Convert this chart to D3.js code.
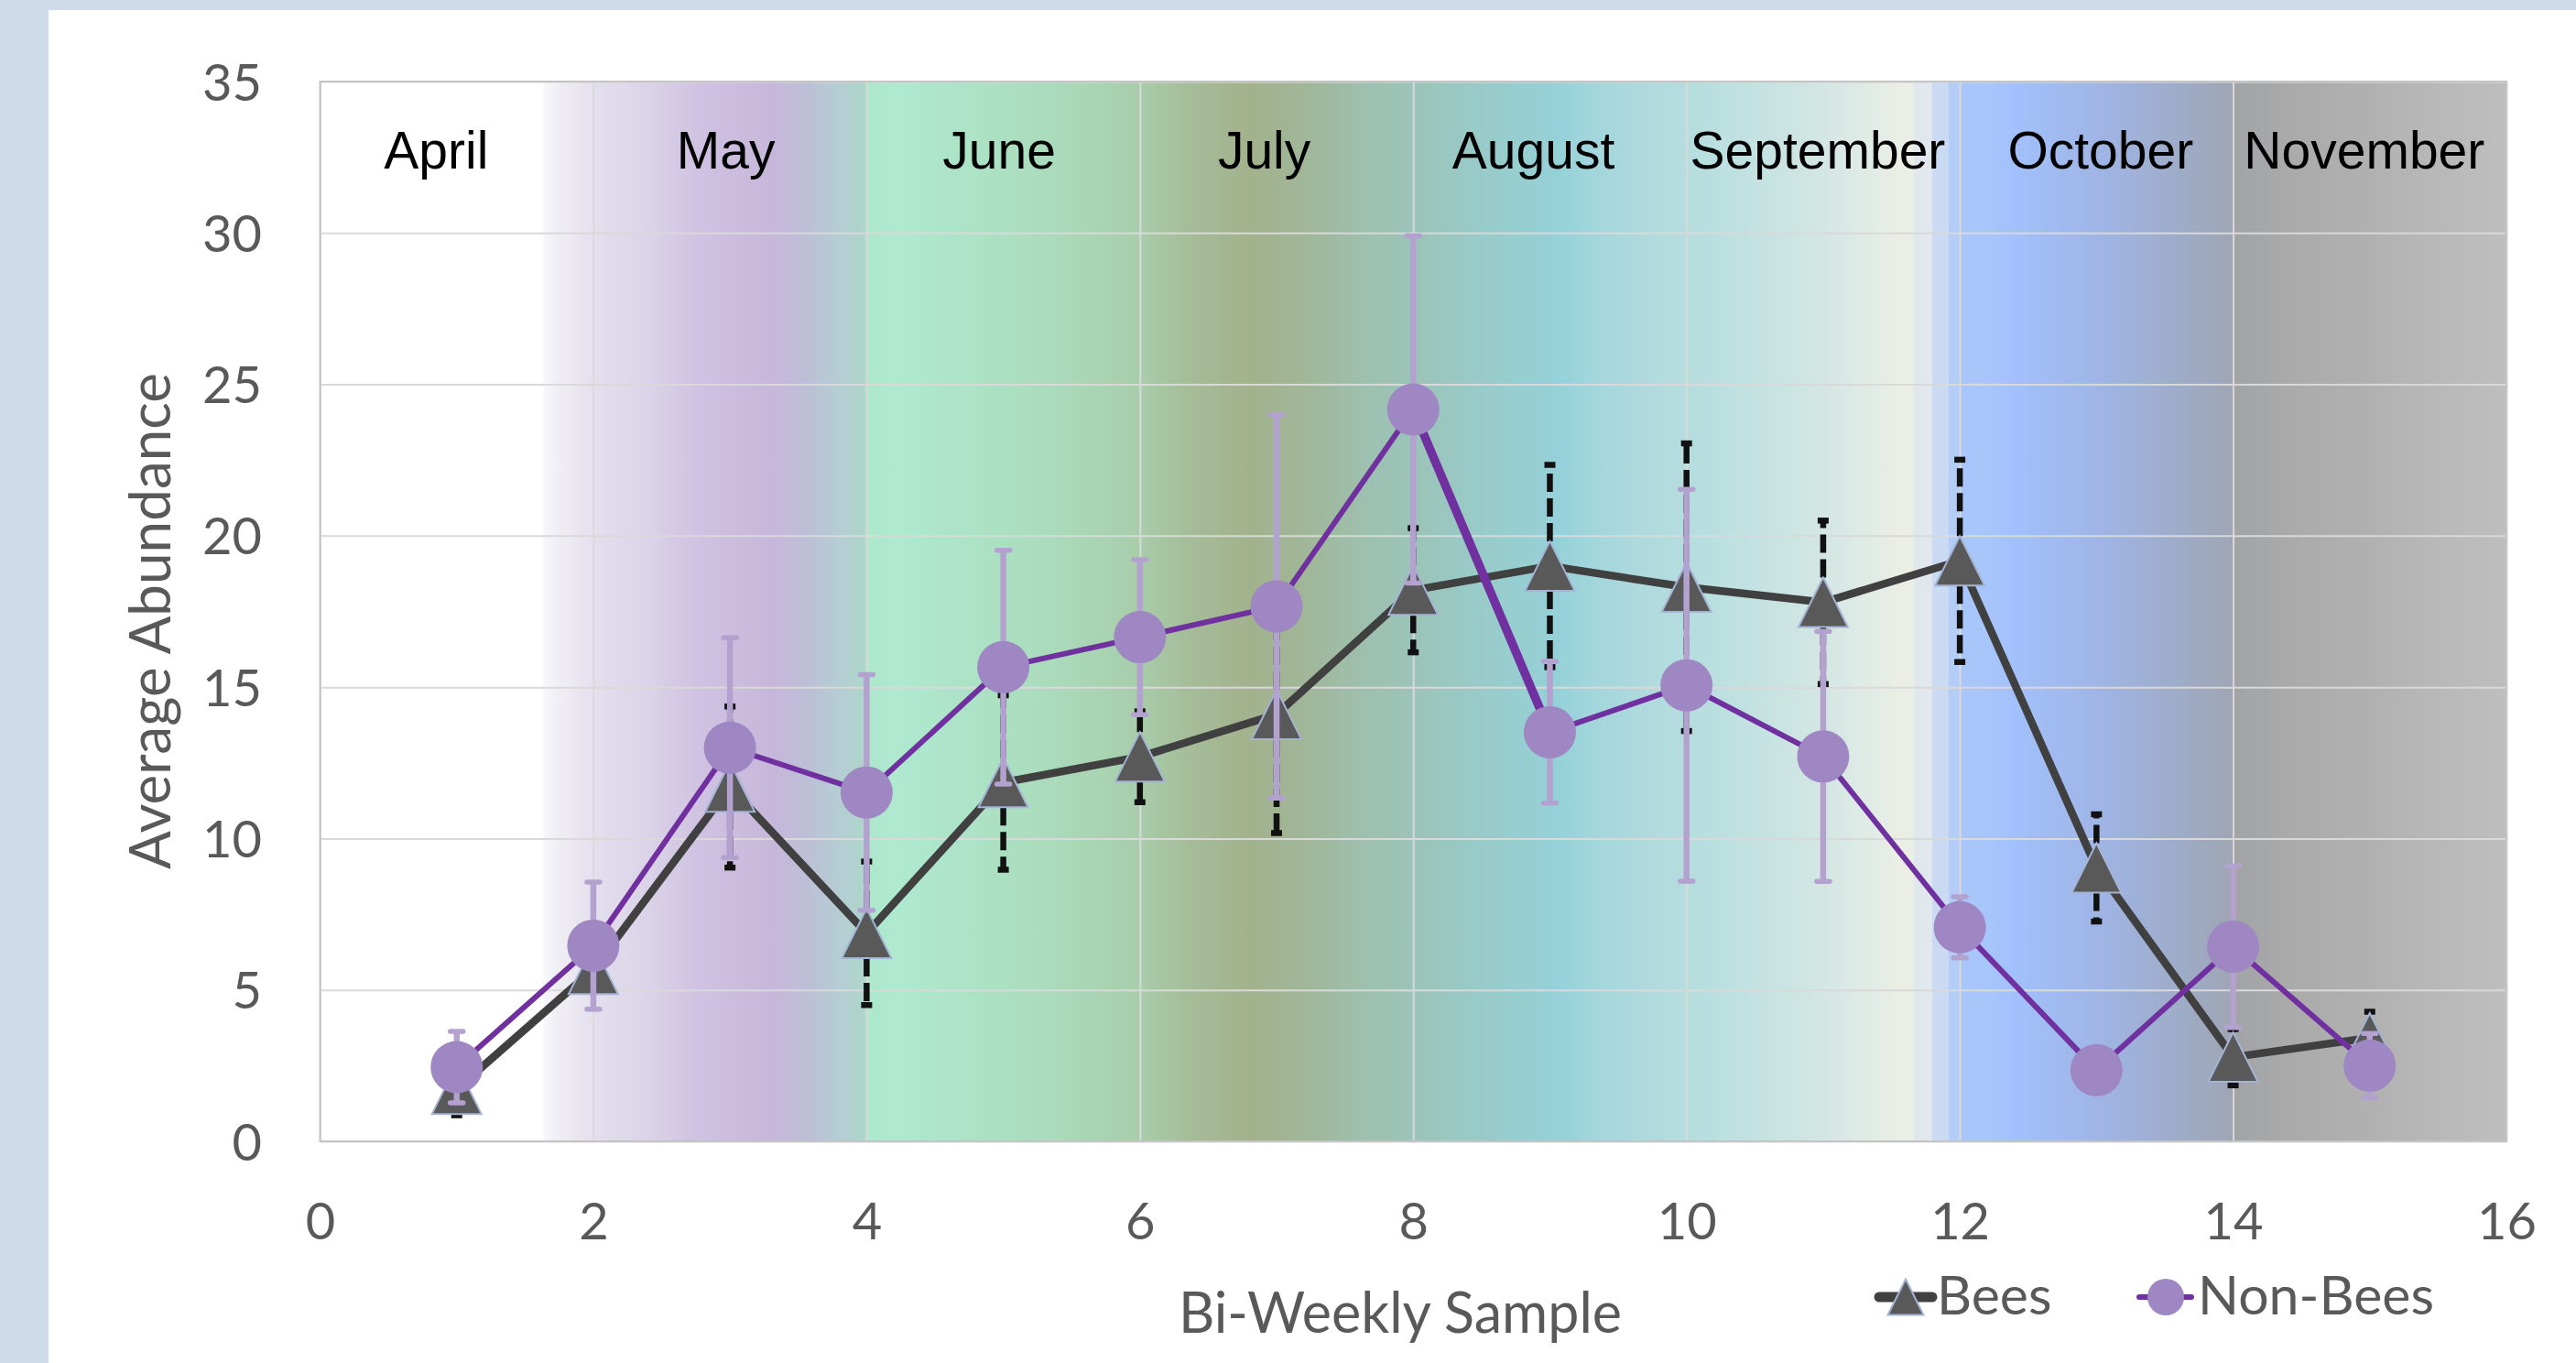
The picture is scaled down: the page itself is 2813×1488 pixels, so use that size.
<!DOCTYPE html>
<html>
<head>
<meta charset="utf-8">
<script src="https://cdn.jsdelivr.net/npm/d3@7"></script>
<style>
	html, body { margin: 0; padding: 0; background: #cddbea; }
	svg { display: block; }
</style>
</head>
<body>
<svg id="chart" width="2813" height="1488"></svg>
<script>
// chart data
var samples = [1, 2, 3, 4, 5, 6, 7, 8, 9, 10, 11, 12, 13, 14, 15];
var bees = [1.72, 5.68, 11.7, 6.87, 11.85, 12.7, 14.1, 18.2, 19.0, 18.3, 17.8, 19.17, 9.03, 2.78, 3.42];
var beesErr = [0.86, 0.7, 2.66, 2.37, 2.88, 1.5, 3.92, 2.05, 3.34, 4.75, 2.7, 3.34, 1.77, 0.93, 0.86];
var nonBees = [2.45, 6.46, 13.0, 11.52, 15.66, 16.65, 17.67, 24.17, 13.51, 15.06, 12.71, 7.07, 2.35, 6.43, 2.5];
var nonBeesErr = [1.18, 2.1, 3.63, 3.89, 3.86, 2.56, 6.33, 5.73, 2.34, 6.47, 4.13, 1.01, 0.6, 2.67, 1.06];

var months = ['April', 'May', 'June', 'July', 'August', 'September', 'October', 'November'];
var monthCenters = [0.85, 2.97, 4.97, 6.91, 8.88, 10.96, 13.03, 14.96];

var xTicks = [0, 2, 4, 6, 8, 10, 12, 14, 16];
var yTicks = [0, 5, 10, 15, 20, 25, 30, 35];

(function() {
	'use strict';

	var svg = d3.select('#chart');
	var FONT = 'Lato, "Open Sans", sans-serif';

	var x = d3.scaleLinear().domain([0, 16]).range([349.5, 2737]);
	var y = d3.scaleLinear().domain([0, 35]).range([1246, 89]);

	var plotW = x(16) - x(0);
	var plotH = y(0) - y(35);

	// white panel
	svg.append('rect')
		.attr('x', 53).attr('y', 11)
		.attr('width', 2760).attr('height', 1477)
		.attr('fill', '#fff');

	// season background (stops in sample units)
	var seasonStops = [
		[0, '#ffffff'], [1.632, '#ffffff'], [1.638, '#f7f6fa'], [1.765, '#efedf4'],
		[1.886, '#e9e6f0'], [2.0, '#e3dfed'], [2.348, '#dcd5e9'], [2.797, '#cfc1e1'],
		[3.333, '#c6b7da'], [3.554, '#bdbfd6'], [3.775, '#b5ccd4'], [3.983, '#aed6ca'],
		[4.0, '#ade8cd'], [4.225, '#aee9d0'], [5.363, '#aadbbb'], [6.0, '#a8cdaa'],
		[6.37, '#a5bc98'], [6.812, '#a2b28d'], [7.241, '#a0b799'], [7.71, '#9dc1b2'],
		[8.044, '#9bc4b9'], [8.513, '#98cbc9'], [9.055, '#95d1d8'], [9.317, '#a2d6dc'],
		[9.719, '#b0dadd'], [10.121, '#b8dedf'], [10.59, '#c6e3e1'], [10.992, '#d3e6e3'],
		[11.394, '#e3ece6'], [11.541, '#eaeee5'], [11.662, '#eaeee5'], [11.668, '#e1e8ed'],
		[11.796, '#e1e8ed'], [11.802, '#c9daf2'], [11.916, '#c9daf2'], [11.923, '#b3cdf7'],
		[11.997, '#b3cdf7'], [12.003, '#a9c6fb'], [12.171, '#a9c6fb'], [12.399, '#a2c0fb'],
		[13.069, '#9fb4e3'], [13.605, '#9eacc8'], [13.98, '#9fa6b5'], [14.007, '#a2a3a6'],
		[14.409, '#aaaaaa'], [14.945, '#b0b0b0'], [15.481, '#b8b8b8'], [16, '#bebebe']
	];

	var grad = svg.append('defs').append('linearGradient')
		.attr('id', 'season')
		.attr('gradientUnits', 'userSpaceOnUse')
		.attr('x1', x(0)).attr('x2', x(16))
		.attr('y1', 0).attr('y2', 0);

	grad.selectAll('stop')
		.data(seasonStops)
		.enter().append('stop')
		.attr('offset', function(d) { return (x(d[0]) - x(0)) / plotW; })
		.attr('stop-color', function(d) { return d[1]; });

	svg.append('rect')
		.attr('x', x(0)).attr('y', y(35))
		.attr('width', plotW).attr('height', plotH)
		.attr('fill', 'url(#season)');

	// gridlines
	var grid = svg.append('g').attr('class', 'grid');

	grid.append('g')
		.attr('transform', 'translate(0,' + y(0) + ')')
		.call(d3.axisBottom(x).tickValues(xTicks).tickSize(-plotH).tickFormat(''))
		.call(function(g) {
			g.select('.domain').remove();
			g.selectAll('line').attr('stroke', '#d9d9d9').attr('stroke-width', 2);
		});

	grid.append('g')
		.attr('transform', 'translate(' + x(0) + ',0)')
		.call(d3.axisLeft(y).tickValues(yTicks).tickSize(-plotW).tickFormat(''))
		.call(function(g) {
			g.select('.domain').remove();
			g.selectAll('line').attr('stroke', '#d9d9d9').attr('stroke-width', 2);
		});

	// plot frame
	svg.append('rect')
		.attr('x', x(0)).attr('y', y(35))
		.attr('width', plotW).attr('height', plotH)
		.attr('fill', 'none')
		.attr('stroke', '#c4c4c4')
		.attr('stroke-width', 2);

	// month labels
	svg.append('g').selectAll('text')
		.data(months)
		.enter().append('text')
		.attr('x', function(d, i) { return x(monthCenters[i]); })
		.attr('y', 184)
		.attr('text-anchor', 'middle')
		.attr('font-family', '"Liberation Sans", Arial, sans-serif')
		.attr('font-size', 57)
		.attr('fill', '#000')
		.text(function(d) { return d; });

	// axes
	svg.append('g')
		.attr('transform', 'translate(0,' + y(0) + ')')
		.call(d3.axisBottom(x).tickValues(xTicks).tickSize(0).tickFormat(d3.format('d')))
		.call(function(g) {
			g.select('.domain').remove();
			g.selectAll('text')
				.attr('y', 107).attr('dy', null)
				.attr('font-family', FONT).attr('font-size', 56)
				.attr('fill', '#595959');
		});

	svg.append('g')
		.attr('transform', 'translate(' + x(0) + ',0)')
		.call(d3.axisLeft(y).tickValues(yTicks).tickSize(0).tickFormat(d3.format('d')))
		.call(function(g) {
			g.select('.domain').remove();
			g.selectAll('text')
				.attr('x', -63.5).attr('dy', null).attr('y', 20)
				.attr('font-family', FONT).attr('font-size', 56)
				.attr('fill', '#595959');
		});

	// axis titles
	svg.append('text')
		.attr('x', 1529).attr('y', 1455)
		.attr('text-anchor', 'middle')
		.attr('font-family', FONT).attr('font-size', 61)
		.attr('fill', '#595959')
		.text('Bi-Weekly Sample');

	svg.append('text')
		.attr('transform', 'translate(186,678) rotate(-90)')
		.attr('text-anchor', 'middle')
		.attr('font-family', FONT).attr('font-size', 62)
		.attr('fill', '#595959')
		.text('Average Abundance');

	// series
	function triPath(w, h) {
		return 'M0,' + (-h / 2) + 'L' + (w / 2) + ',' + (h / 2) + 'L' + (-w / 2) + ',' + (h / 2) + 'Z';
	}

	var beesData = samples.map(function(s, i) { return { x: s, v: bees[i], e: beesErr[i] }; });
	var nonBeesData = samples.map(function(s, i) { return { x: s, v: nonBees[i], e: nonBeesErr[i] }; });

	var line = d3.line()
		.x(function(d) { return x(d.x); })
		.y(function(d) { return y(d.v); });

	// bees: dashed black error bars
	var gB = svg.append('g').attr('class', 'bees');

	var eb = gB.selectAll('g.err')
		.data(beesData)
		.enter().append('g').attr('class', 'err');

	[1, -1].forEach(function(dir) {
		eb.append('line')
			.attr('x1', function(d) { return x(d.x); })
			.attr('x2', function(d) { return x(d.x); })
			.attr('y1', function(d) { return y(d.v); })
			.attr('y2', function(d) { return y(d.v + dir * d.e); })
			.attr('stroke', '#111')
			.attr('stroke-width', 6.5)
			.attr('stroke-dasharray', '20,7');
		eb.append('line')
			.attr('x1', function(d) { return x(d.x) - 6; })
			.attr('x2', function(d) { return x(d.x) + 6; })
			.attr('y1', function(d) { return y(d.v + dir * d.e); })
			.attr('y2', function(d) { return y(d.v + dir * d.e); })
			.attr('stroke', '#111')
			.attr('stroke-width', 6.5);
	});

	gB.append('path')
		.datum(beesData)
		.attr('d', line)
		.attr('fill', 'none')
		.attr('stroke', '#404040')
		.attr('stroke-width', 8.5)
		.attr('stroke-linejoin', 'round');

	gB.selectAll('path.tri')
		.data(beesData)
		.enter().append('path')
		.attr('class', 'tri')
		.attr('transform', function(d) { return 'translate(' + x(d.x) + ',' + y(d.v) + ')'; })
		.attr('d', triPath(54, 54))
		.attr('fill', '#595959')
		.attr('stroke', '#a4b4d4')
		.attr('stroke-width', 2);

	// non-bees: light purple error bars
	var gN = svg.append('g').attr('class', 'non-bees');

	var en = gN.selectAll('g.err')
		.data(nonBeesData)
		.enter().append('g').attr('class', 'err');

	en.append('line')
		.attr('x1', function(d) { return x(d.x); })
		.attr('x2', function(d) { return x(d.x); })
		.attr('y1', function(d) { return y(d.v - d.e); })
		.attr('y2', function(d) { return y(d.v + d.e); })
		.attr('stroke', '#b3a2cf')
		.attr('stroke-width', 6.5);

	[1, -1].forEach(function(dir) {
		en.append('line')
			.attr('x1', function(d) { return x(d.x) - 7; })
			.attr('x2', function(d) { return x(d.x) + 7; })
			.attr('y1', function(d) { return y(d.v + dir * d.e); })
			.attr('y2', function(d) { return y(d.v + dir * d.e); })
			.attr('stroke', '#b3a2cf')
			.attr('stroke-width', 5.5)
			.attr('stroke-linecap', 'round');
	});

	gN.append('path')
		.datum(nonBeesData)
		.attr('d', line)
		.attr('fill', 'none')
		.attr('stroke', '#7030a0')
		.attr('stroke-width', 6)
		.attr('stroke-linejoin', 'round');

	// the segment from sample 8 to 9 is drawn heavier in the original
	gN.append('path')
		.datum(nonBeesData.slice(7, 9))
		.attr('d', line)
		.attr('fill', 'none')
		.attr('stroke', '#7030a0')
		.attr('stroke-width', 9.5);

	gN.selectAll('circle')
		.data(nonBeesData)
		.enter().append('circle')
		.attr('cx', function(d) { return x(d.x); })
		.attr('cy', function(d) { return y(d.v); })
		.attr('r', 28.5)
		.attr('fill', '#9e87c2');

	// legend
	var lg = svg.append('g').attr('class', 'legend');

	lg.append('line')
		.attr('x1', 2052).attr('x2', 2110).attr('y1', 1416).attr('y2', 1416)
		.attr('stroke', '#404040').attr('stroke-width', 11).attr('stroke-linecap', 'round');
	lg.append('path')
		.attr('transform', 'translate(2081,1416)')
		.attr('d', triPath(39, 39))
		.attr('fill', '#595959').attr('stroke', '#a4b4d4').attr('stroke-width', 2);
	lg.append('text')
		.attr('x', 2115).attr('y', 1435)
		.attr('font-family', FONT).attr('font-size', 59).attr('fill', '#595959')
		.text('Bees');

	lg.append('line')
		.attr('x1', 2336).attr('x2', 2393).attr('y1', 1416).attr('y2', 1416)
		.attr('stroke', '#7030a0').attr('stroke-width', 6).attr('stroke-linecap', 'round');
	lg.append('circle')
		.attr('cx', 2365).attr('cy', 1416).attr('r', 20)
		.attr('fill', '#9e87c2');
	lg.append('text')
		.attr('x', 2400).attr('y', 1435)
		.attr('font-family', FONT).attr('font-size', 59).attr('fill', '#595959')
		.text('Non-Bees');
})();
</script>
</body>
</html>
